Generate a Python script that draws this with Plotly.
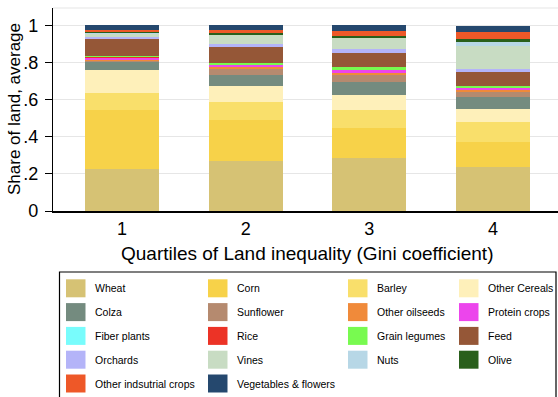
import plotly.graph_objects as go

# Quartiles of land inequality (x categories)
quartiles = [1, 2, 3, 4]

# Average land share per crop, one value per quartile
wheat = [0.227, 0.267, 0.288, 0.236]
corn = [0.315, 0.221, 0.157, 0.137]
barley = [0.094, 0.101, 0.101, 0.108]
other_cereals = [0.126, 0.087, 0.079, 0.067]
colza = [0.042, 0.059, 0.069, 0.066]
sunflower = [0.008, 0.031, 0.040, 0.029]
other_oilseeds = [0.006, 0.009, 0.008, 0.009]
protein_crops = [0.010, 0.014, 0.020, 0.011]
fiber_plants = [0.001, 0.001, 0.002, 0.001]
rice = [0.002, 0.001, 0.001, 0.002]
grain_legumes = [0.007, 0.007, 0.010, 0.007]
feed = [0.094, 0.088, 0.078, 0.076]
orchards = [0.008, 0.014, 0.020, 0.016]
vines = [0.018, 0.049, 0.060, 0.126]
nuts = [0.003, 0.003, 0.003, 0.022]
olive = [0.004, 0.005, 0.005, 0.016]
other_industrial = [0.008, 0.016, 0.029, 0.038]
vegetables_flowers = [0.027, 0.027, 0.032, 0.032]

crop_labels = [
    "Wheat", "Corn", "Barley", "Other Cereals",
    "Colza", "Sunflower", "Other oilseeds", "Protein crops",
    "Fiber plants", "Rice", "Grain legumes", "Feed",
    "Orchards", "Vines", "Nuts", "Olive",
    "Other indsutrial crops", "Vegetables & flowers",
]
crop_values = [
    wheat, corn, barley, other_cereals,
    colza, sunflower, other_oilseeds, protein_crops,
    fiber_plants, rice, grain_legumes, feed,
    orchards, vines, nuts, olive,
    other_industrial, vegetables_flowers,
]

y_tick_values = [0, 0.2, 0.4, 0.6, 0.8, 1.0]
y_tick_labels = ["0", ".2", ".4", ".6", ".8", "1"]

# Fill colours, in the same order as the crops
palette = [
    "#D6C274", "#F7D249", "#F9DF6B", "#FEF0BA",
    "#748B7F", "#B58A6F", "#F08A3A", "#EC45EC",
    "#78FCFC", "#EC3326", "#78FA50", "#955737",
    "#B4B4F8", "#C8DCC3", "#B7D7E6", "#295F1B",
    "#EE5828", "#25486E",
]

W, H = 558, 397
L, R, T, B = 53, 558, 8, 211  # plot area in pixels


def px(xp):
    return (xp - L) / (R - L)


def py(yp):
    return (B - yp) / (B - T)


fig = go.Figure()
for label, vals, col in zip(crop_labels, crop_values, palette):
    fig.add_trace(go.Bar(
        x=quartiles, y=vals, name=label, width=0.6,
        marker=dict(color=col, line=dict(width=0)),
        showlegend=False,
    ))

font_family = "Liberation Sans, Arial, Helvetica, sans-serif"

shapes = []
annotations = []

# top border of the plot region
shapes.append(dict(type="line", xref="paper", yref="paper",
                   x0=0, x1=1, y0=1, y1=1,
                   line=dict(color="#E6E6E6", width=1.2)))

# axis titles
annotations.append(dict(
    text="Quartiles of Land inequality (Gini coefficient)",
    xref="paper", yref="paper", x=px(307), y=py(253),
    xanchor="center", yanchor="middle", showarrow=False,
    font=dict(size=19, color="black", family=font_family)))
annotations.append(dict(
    text="Share of land, average",
    xref="paper", yref="paper", x=px(15), y=py(109),
    xanchor="center", yanchor="middle", showarrow=False, textangle=-90,
    font=dict(size=17, color="black", family=font_family)))

# legend box
shapes.append(dict(type="rect", xref="paper", yref="paper",
                   x0=px(59.5), x1=px(556), y0=py(272), y1=py(402),
                   line=dict(color="black", width=1.2), fillcolor="white"))

col_swatch_x = [66, 208, 348, 459]
col_text_x = [93, 235, 375, 486]
row_y = [288.3, 312.1, 335.9, 359.7, 383.5]
for i, (label, col) in enumerate(zip(crop_labels, palette)):
    r, c = divmod(i, 4)
    yc = row_y[r]
    shapes.append(dict(type="rect", xref="paper", yref="paper",
                       x0=px(col_swatch_x[c]), x1=px(col_swatch_x[c] + 19.5),
                       y0=py(yc - 9), y1=py(yc + 9),
                       line=dict(width=0), fillcolor=col))
    annotations.append(dict(
        text=label, xref="paper", yref="paper",
        x=px(col_text_x[c]), y=py(yc),
        xanchor="left", yanchor="middle", showarrow=False,
        font=dict(size=10.5, color="black", family=font_family)))

fig.update_layout(
    width=W, height=H,
    margin=dict(l=L, r=W - R, t=T, b=H - B, pad=0),
    barmode="stack",
    bargap=0.4,
    plot_bgcolor="white",
    paper_bgcolor="white",
    font=dict(family=font_family, color="black"),
    shapes=shapes,
    annotations=annotations,
    xaxis=dict(
        range=[0.442, 4.526],
        tickvals=quartiles,
        ticktext=[str(q) for q in quartiles],
        showgrid=False, zeroline=False,
        showline=True, linecolor="black", linewidth=1.5,
        ticks="", tickfont=dict(size=18, color="black"),
        ticklabelstandoff=1,
    ),
    yaxis=dict(
        range=[0, 1.094],
        tickvals=y_tick_values,
        ticktext=y_tick_labels,
        showgrid=True, gridcolor="#E6E6E6", gridwidth=1.2,
        zeroline=False,
        showline=True, linecolor="black", linewidth=1.2,
        ticks="outside", ticklen=7, tickwidth=1.2, tickcolor="black",
        tickfont=dict(size=18, color="black"),
        ticklabelstandoff=3,
    ),
)

fig.write_html("out.html")
